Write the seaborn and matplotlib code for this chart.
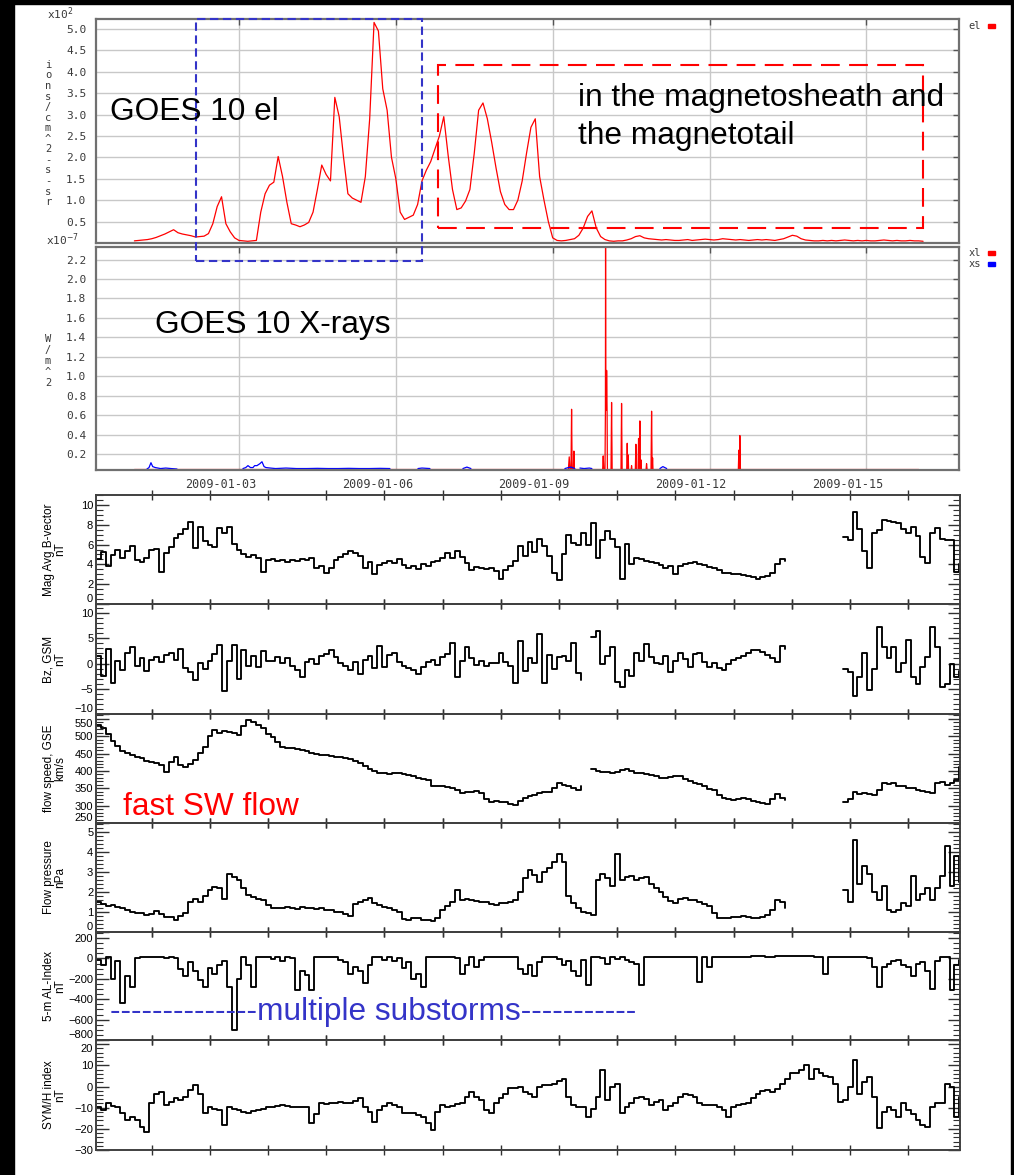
import numpy as np
import pandas as pd
import matplotlib
matplotlib.use("Agg")
import matplotlib.pyplot as plt
import matplotlib.transforms as mtransforms
from matplotlib.patches import Rectangle
from matplotlib.ticker import MultipleLocator, FixedLocator
import seaborn as sns

NA = np.nan

# ---------------- GOES 10 (days since 2009-01-01 00:00) ----------------
date_ticks = [2, 5, 8, 11, 14]
date_labels = ["2009-01-03", "2009-01-06", "2009-01-09", "2009-01-12", "2009-01-15"]

# electron flux, 2-hour cadence (units of 1e2)
el_flux = [
    0.05, 0.06, 0.07, 0.08, 0.10, 0.13, 0.17, 0.21, 0.26, 0.31, 0.24, 0.21,
    0.19, 0.17, 0.14, 0.15, 0.16, 0.22, 0.45, 0.85, 1.08, 0.45, 0.26, 0.12,
    0.06, 0.05, 0.04, 0.05, 0.06, 0.72, 1.15, 1.35, 1.42, 2.02, 1.55, 0.95,
    0.45, 0.42, 0.38, 0.42, 0.48, 0.72, 1.25, 1.82, 1.60, 1.45, 3.40, 2.95,
    2.00, 1.15, 1.05, 1.00, 0.95, 1.55, 2.90, 5.15, 4.95, 3.60, 3.10, 2.00,
    1.50, 0.72, 0.55, 0.60, 0.65, 0.90, 1.45, 1.70, 1.90, 2.20, 2.50, 2.95,
    2.05, 1.25, 0.78, 0.82, 0.98, 1.25, 2.10, 3.10, 3.27, 2.90, 2.35, 1.75,
    1.20, 0.90, 0.78, 0.78, 1.00, 1.45, 2.10, 2.70, 2.90, 1.55, 1.00, 0.50,
    0.12, 0.06, 0.05, 0.06, 0.08, 0.10, 0.18, 0.35, 0.62, 0.75, 0.35, 0.15,
    0.08, 0.05, 0.04, 0.05, 0.05, 0.07, 0.10, 0.15, 0.17, 0.12, 0.10, 0.09,
    0.08, 0.07, 0.08, 0.07, 0.06, 0.06, 0.07, 0.08, 0.06, 0.07, 0.08, 0.09,
    0.08, 0.07, 0.08, 0.10, 0.09, 0.08, 0.07, 0.08, 0.07, 0.06, 0.07, 0.08,
    0.07, 0.08, 0.07, 0.06, 0.08, 0.10, 0.14, 0.18, 0.16, 0.10, 0.07, 0.06,
    0.05, 0.05, 0.06, 0.05, 0.06, 0.05, 0.06, 0.07, 0.06, 0.05, 0.06, 0.05,
    0.06, 0.05, 0.05, 0.06, 0.07, 0.06, 0.05, 0.06, 0.05, 0.05, 0.06, 0.05,
    0.05, 0.04,
]
el_day = np.arange(len(el_flux)) / 12.0

# long-wavelength X-ray flux (units of 1e-7)
xl_day = [0.00, 8.300, 8.316, 8.330, 8.350, 8.361, 8.372, 8.395, 8.405, 8.415,
          8.955, 8.966, 8.977, 9.000, 9.008, 9.011, 9.016, 9.025, 9.031, 9.040, 9.046,
          9.115, 9.126, 9.137, 9.306, 9.317, 9.328, 9.415, 9.425, 9.435, 9.444, 9.452,
          9.500, 9.508, 9.516, 9.580, 9.591, 9.600, 9.632, 9.642, 9.655, 9.667, 9.678, 9.686, 9.694,
          9.785, 9.795, 9.805, 9.880, 9.891, 9.902, 9.910, 9.918,
          11.550, 11.560, 11.570, 11.579, 11.590, 15.00]
xl_flux = [0.04, 0.04, 0.17, 0.04, 0.04, 0.66, 0.04, 0.04, 0.23, 0.04,
           0.04, 0.18, 0.04, 0.04, 0.65, 2.40, 0.65, 0.65, 1.06, 0.65, 0.04,
           0.04, 0.73, 0.04, 0.04, 0.72, 0.04, 0.04, 0.31, 0.04, 0.19, 0.04,
           0.04, 0.08, 0.04, 0.04, 0.30, 0.04, 0.04, 0.36, 0.04, 0.54, 0.04, 0.14, 0.04,
           0.04, 0.10, 0.04, 0.04, 0.64, 0.04, 0.16, 0.04,
           0.04, 0.24, 0.04, 0.39, 0.04, 0.04]

# short-wavelength X-ray flux, gaps marked with NaN
xs_day = [0.24, 0.28, 0.317, 0.35, 0.40, 0.50, 0.60, 0.70, 0.815, NA,
          2.076, 2.13, 2.172, 2.22, 2.268, 2.30, 2.344, 2.40, 2.44, 2.48, 2.516,
          2.60, 2.70, 2.90, 3.10, 3.30, 3.50, 3.70, 3.90, 4.10, 4.30, 4.50, 4.70, 4.887, NA,
          5.423, 5.50, 5.652, NA, 6.283, 6.359, 6.436, NA,
          8.233, 8.30, 8.35, 8.424, NA, 8.520, 8.60, 8.70, 8.749, NA,
          10.05, 10.107, 10.18]
xs_flux = [0.045, 0.06, 0.11, 0.07, 0.06, 0.05, 0.055, 0.05, 0.045, NA,
           0.05, 0.06, 0.08, 0.06, 0.06, 0.08, 0.08, 0.10, 0.12, 0.07, 0.06,
           0.055, 0.05, 0.055, 0.05, 0.05, 0.052, 0.05, 0.05, 0.052, 0.05, 0.05, 0.052, 0.05, NA,
           0.05, 0.055, 0.05, NA, 0.05, 0.065, 0.05, NA,
           0.05, 0.06, 0.065, 0.05, NA, 0.055, 0.05, 0.055, 0.05, NA,
           0.05, 0.07, 0.05]

# ---------------- OMNI solar wind / indices (2-hour cadence) ----------------
mag_b = [
    4.5, 5.2, 3.8, 4.9, 5.5, 4.6, 5.3, 5.9, 4.4, 4.2, 4.6, 5.4,
    5.6, 3.2, 5.1, 5.8, 6.7, 7.1, 7.6, 8.3, 5.7, 7.8, 6.4, 6.0,
    5.8, 7.7, 7.2, 7.8, 6.1, 5.5, 5.0, 4.7, 4.9, 4.6, 3.2, 4.4,
    4.5, 4.3, 4.4, 4.2, 4.4, 4.3, 4.5, 4.4, 4.6, 3.6, 3.8, 3.1,
    3.6, 4.4, 4.7, 5.0, 5.3, 5.1, 4.8, 3.6, 4.2, 3.0, 3.9, 4.1,
    4.3, 4.1, 4.5, 3.9, 3.6, 3.8, 3.5, 4.0, 3.8, 4.2, 4.3, 4.6,
    5.1, 4.6, 5.3, 4.7, 4.1, 3.4, 3.7, 3.6, 3.5, 3.6, 3.3, 2.5,
    3.4, 3.8, 4.3, 5.9, 4.8, 6.3, 5.2, 6.6, 5.9, 4.8, 3.1, 2.4,
    5.0, 7.0, 6.2, 6.0, 7.2, 6.0, 8.2, 4.6, 6.5, 7.4, 6.6, 5.8,
    2.5, 6.1, 4.0, 4.6, 4.5, 4.3, 4.2, 4.1, 3.9, 3.6, 3.8, 3.0,
    3.8, 4.0, 4.1, 4.2, 4.0, 3.9, 3.7, 3.6, 3.4, 3.1, 3.1, 3.0,
    3.0, 2.9, 2.8, 2.7, 2.5, 2.7, 2.8, 3.1, 4.0, 4.5, 4.3, NA,
    NA, NA, NA, NA, NA, NA, NA, NA, NA, NA, 6.8, 6.5,
    9.3, 7.6, 5.3, 3.6, 7.2, 7.5, 8.5, 8.4, 8.3, 8.2, 7.6, 7.2,
    7.8, 6.9, 4.7, 4.1, 7.2, 7.7, 6.6, 6.5, 6.5, 3.2, 4.0,
]
bz_gsm = [
    1.5, -2.5, 2.8, -3.8, 0.5, -1.2, 2.0, 3.2, -0.5, 1.0, -1.5, 0.8,
    1.2, 0.4, 1.6, 2.1, 0.8, 2.9, -0.8, -1.6, -3.2, 0.2, -1.0, 0.5,
    1.8, 3.6, -5.5, 0.5, 3.6, -3.0, 2.7, -0.5, 1.5, -0.6, 2.4, 0.6,
    0.5, 1.3, 0.2, 1.0, -0.4, -1.3, -2.6, 0.4, 0.9, -0.1, 1.5, 1.9,
    2.6, 1.2, 0.2, -0.5, -1.3, 0.3, -2.0, 0.8, 1.5, -0.9, 3.5, -0.6,
    1.6, 2.0, 0.4, -0.5, -0.8, -1.2, -2.0, -0.6, 0.3, 0.8, -0.2, 1.3,
    1.9, 4.0, -2.6, 0.5, 3.3, 1.0, -0.3, 0.6, -0.5, 0.2, 0.1, 2.0,
    0.4, -0.5, -3.9, 4.5, -1.5, 1.0, 0.2, 5.8, -3.9, 1.6, -1.0, 1.3,
    1.5, 0.6, 4.0, -1.9, -3.3, NA, 5.3, 6.5, 0.0, 1.5, 3.3, -3.6,
    -4.6, -1.3, -2.4, 2.0, 0.5, 3.8, 1.3, 0.2, 0.0, 1.5, -1.6, 0.5,
    2.0, 0.9, -0.6, 1.8, 2.0, 0.3, -0.6, 0.2, -0.9, -1.2, -0.1, 0.7,
    1.0, 1.4, 2.0, 2.6, 2.7, 2.2, 1.6, 1.0, 0.4, 3.4, 2.8, NA,
    NA, NA, NA, NA, NA, NA, NA, NA, NA, NA, -1.0, -1.6,
    -6.5, -2.6, 2.0, -5.2, -1.0, 7.2, 3.3, 1.0, 3.3, -1.6, 0.2, 4.6,
    -2.6, -4.0, -0.6, 1.3, 7.2, 3.3, -4.6, -4.0, 0.0, -2.6, -1.5,
]
flow_speed = [
    533, 524, 505, 485, 472, 458, 452, 446, 441, 436, 430, 426,
    424, 418, 396, 425, 441, 418, 412, 420, 432, 451, 470, 500,
    518, 510, 514, 513, 508, 504, 530, 547, 540, 532, 524, 506,
    497, 484, 470, 467, 466, 463, 461, 457, 452, 450, 447, 446,
    443, 441, 439, 437, 435, 428, 422, 414, 405, 400, 395, 393,
    392, 394, 393, 390, 388, 384, 380, 377, 374, 358, 356, 357,
    355, 352, 345, 336, 338, 340, 341, 335, 320, 311, 313, 311,
    310, 306, 302, 312, 322, 327, 332, 336, 338, 340, 352, 364,
    360, 356, 351, 346, 358, NA, 405, 400, 397, 396, 393, 398,
    402, 405, 400, 395, 393, 392, 388, 385, 380, 380, 383, 386,
    384, 376, 370, 366, 362, 356, 349, 344, 332, 322, 319, 316,
    318, 321, 318, 314, 311, 309, 306, 318, 334, 322, 316, NA,
    NA, NA, NA, NA, NA, NA, NA, NA, NA, NA, 311, 320,
    340, 334, 336, 333, 330, 346, 364, 362, 364, 356, 358, 350,
    352, 345, 342, 338, 336, 366, 368, 360, 364, 374, 410,
]
flow_pressure = [
    1.5, 1.4, 1.3, 1.35, 1.25, 1.2, 1.1, 1.0, 0.93, 0.95, 0.85, 0.9,
    1.05, 0.9, 0.77, 0.75, 0.62, 0.78, 0.95, 1.5, 1.65, 1.5, 1.8, 2.1,
    2.25, 2.2, 1.65, 2.9, 2.75, 2.6, 2.2, 1.85, 1.75, 1.65, 1.6, 1.35,
    1.2, 1.2, 1.2, 1.25, 1.2, 1.15, 1.25, 1.2, 1.2, 1.15, 1.2, 1.1,
    1.1, 1.0, 1.0, 0.9, 0.78, 1.4, 1.5, 1.6, 1.7, 1.45, 1.35, 1.25,
    1.2, 1.1, 1.0, 0.65, 0.6, 0.7, 0.68, 0.62, 0.6, 0.55, 0.7, 1.1,
    1.3, 1.5, 2.1, 1.6, 1.65, 1.6, 1.55, 1.5, 1.5, 1.4, 1.35, 1.45,
    1.45, 1.5, 1.6, 2.0, 2.7, 3.1, 2.85, 2.5, 3.0, 3.2, 3.5, 3.9,
    3.5, 1.8, 1.45, 1.2, 1.0, 0.93, 0.85, 2.6, 2.9, 2.7, 2.3, 3.9,
    2.6, 2.75, 2.8, 2.6, 2.7, 2.75, 2.4, 2.2, 2.0, 1.77, 1.55, 1.45,
    1.65, 1.7, 1.6, 1.6, 1.5, 1.4, 1.3, 0.95, 0.7, 0.68, 0.7, 0.75,
    0.75, 0.78, 0.77, 0.72, 0.68, 0.75, 0.85, 1.1, 1.6, 1.5, 1.2, NA,
    NA, NA, NA, NA, NA, NA, NA, NA, NA, NA, 2.1, 1.5,
    4.6, 2.4, 3.3, 2.9, 2.0, 1.6, 2.3, 1.1, 1.0, 1.1, 1.45, 1.3,
    2.8, 1.6, 1.9, 2.2, 1.6, 2.2, 2.8, 4.3, 2.3, 3.8, 2.5,
]
al_index = [
    -20, -60, 10, -200, -30, -440, -170, -277, 5, 15, 10, 15,
    12, 15, 5, 10, 0, -100, -170, -40, -120, -210, -277, -90,
    -150, -60, -30, -277, -700, -200, 15, -60, -277, 10, 15, 10,
    -10, 15, -30, 10, 5, -310, -120, -160, -310, 10, 15, 12,
    15, 10, -20, -40, -150, -80, -120, -245, -60, 10, 15, -20,
    10, -30, 0, -90, -40, -200, -150, -277, 10, 15, 12, 15,
    10, 15, 5, -150, -60, 10, -80, -20, 15, 12, 15, 10,
    15, 12, 10, -100, -150, -60, -170, -40, 10, 15, 10, -10,
    -60, -30, -120, -170, -20, -260, 10, 15, 5, -50, 10, -10,
    15, -20, -40, -50, -260, 10, 15, 15, 15, 10, 15, 15,
    10, 15, 10, 15, -230, 10, -80, 10, 15, 15, 15, 15,
    18, 15, 15, 20, 22, 20, 15, 15, 20, 25, 25, 22,
    20, 25, 22, 20, 15, 10, -150, 10, 15, 15, 15, 18,
    15, 15, 10, 5, -80, -277, -80, -50, -30, -20, -60, -80,
    -170, -50, -40, -120, -300, -30, 10, 10, -310, -60, -20,
]
sym_h = [
    -9.6, -11.1, -8.0, -9.0, -9.6, -12.7, -15.8, -14.3, -15.8, -19.0, -21.4, -8.0,
    -3.3, -2.5, -8.8, -7.2, -5.6, -6.4, -4.8, -1.7, 0.7, -3.3, -12.7, -9.6,
    -10.4, -11.1, -18.2, -9.6, -10.4, -11.1, -12.0, -12.7, -11.5, -11.1, -10.4, -9.6,
    -9.6, -9.0, -8.8, -9.2, -9.6, -9.6, -9.6, -9.6, -17.4, -13.0, -8.0, -8.4,
    -8.0, -7.6, -7.2, -8.0, -8.0, -6.8, -5.6, -9.6, -12.0, -16.6, -11.1, -9.0,
    -8.0, -8.8, -9.6, -12.7, -12.7, -12.7, -13.5, -14.3, -17.4, -20.6, -12.0, -8.8,
    -9.6, -9.2, -8.4, -8.0, -5.0, -2.5, -4.8, -6.4, -11.1, -12.7, -8.0, -5.6,
    -3.3, -0.9, -0.5, -0.1, -2.5, -3.3, -4.8, -0.1, 0.5, 0.7, 1.4, 2.5,
    3.8, -4.8, -8.8, -9.6, -9.6, -14.3, -10.4, -4.8, 7.7, -6.4, -0.1, 1.4,
    -12.7, -9.6, -8.0, -5.6, -4.8, -6.0, -8.8, -7.2, -6.4, -11.1, -9.0, -8.0,
    -5.0, -3.3, -4.0, -4.8, -8.0, -8.8, -8.8, -8.8, -9.6, -11.1, -14.3, -9.6,
    -8.8, -8.4, -8.0, -5.6, -3.3, -2.0, -1.7, -2.5, -1.0, 1.4, 3.8, 6.2,
    6.2, 8.0, 10.1, 3.8, 8.5, 6.2, 5.0, 4.6, 1.4, -7.2, -6.4, -0.1,
    12.5, -3.3, 2.0, 4.6, -4.8, -19.8, -12.0, -9.6, -11.1, -14.3, -8.0, -11.1,
    -13.0, -15.8, -18.0, -19.0, -9.6, -8.0, -8.0, 1.4, -0.1, -14.3, -4.8,
]
omni_hour = 2.0 * np.arange(len(sym_h))

# highlighted intervals on the electron panel (day, flux)
BLUE_BOX = (1.178, -0.43, 5.50, 5.23)
RED_BOX = (5.805, 0.36, 15.08, 4.16)

# ---------------- figure ----------------
sns.set_theme(style="white")
plt.rcParams["font.family"] = ["Liberation Sans", "DejaVu Sans"]
plt.rcParams["axes.unicode_minus"] = True
plt.rcParams["text.color"] = "black"

W, H, DPI = 1014, 1175, 100
fig = plt.figure(figsize=(W / DPI, H / DPI), dpi=DPI, facecolor="white")
MONO = "DejaVu Sans Mono"
GRAY_TXT = "#3a3a3a"
BLUE = "#3434c8"


def frame(left, top, right, bottom):
    return [left / W, 1 - bottom / H, (right - left) / W, (bottom - top) / H]


def segmented(x, y):
    df = pd.DataFrame({"x": np.asarray(x, float), "y": np.asarray(y, float)})
    df["seg"] = df["y"].isna().cumsum()
    return df.dropna()


def trace(ax, x, y, color, lw, **kw):
    sns.lineplot(data=segmented(x, y), x="x", y="y", units="seg", estimator=None,
                 sort=False, color=color, linewidth=lw, legend=False, ax=ax, **kw)
    ax.set_xlabel("")
    ax.set_ylabel("")


def style_goes(ax, ylim, yticks, ylabels):
    ax.set_xlim(-0.734, 15.77)
    ax.set_ylim(*ylim)
    ax.set_xticks(date_ticks)
    ax.set_yticks(yticks)
    ax.set_yticklabels(ylabels)
    ax.grid(True, color="#c8c8c8", lw=1.0)
    ax.set_axisbelow(True)
    for s in ax.spines.values():
        s.set_visible(True)
        s.set_color("#707070")
        s.set_linewidth(1.6)
    ax.tick_params(axis="both", direction="in", length=4, width=1, color="#555555",
                   top=True, right=True, labelsize=8, labelcolor=GRAY_TXT)
    ax.tick_params(axis="y", pad=7)
    for lbl in ax.get_yticklabels():
        lbl.set_family(MONO)


# electron panel
ax_el = fig.add_axes(frame(96, 19, 959, 243))
ax_el.set_zorder(3)
trace(ax_el, el_day, el_flux, "red", 0.9)
style_goes(ax_el, (0, 5.23), np.arange(0.5, 5.01, 0.5),
           ["%.1f" % v for v in np.arange(0.5, 5.01, 0.5)])
ax_el.tick_params(axis="x", labelbottom=False)

# X-ray panel
ax_xr = fig.add_axes(frame(96, 247, 959, 470))
trace(ax_xr, xl_day, xl_flux, "red", 0.9)
trace(ax_xr, xs_day, xs_flux, "blue", 0.9)
style_goes(ax_xr, (0.035, 2.33), np.arange(0.2, 2.21, 0.2),
           ["%.1f" % v for v in np.arange(0.2, 2.21, 0.2)])
ax_xr.set_xticklabels(date_labels)
ax_xr.tick_params(axis="x", pad=6, labelsize=8.5)
shift = mtransforms.ScaledTranslation(-18.5 / DPI, 0, fig.dpi_scale_trans)
for lbl in ax_xr.get_xticklabels():
    lbl.set_family(MONO)
    lbl.set_transform(lbl.get_transform() + shift)

# annotation boxes and captions on the GOES panels
x0, y0, x1, y1 = BLUE_BOX
ax_el.add_patch(Rectangle((x0, y0), x1 - x0, y1 - y0, fill=False, ec=BLUE, lw=1.5,
                          ls=(0, (4, 2.2)), clip_on=False, zorder=6))
x0, y0, x1, y1 = RED_BOX
ax_el.add_patch(Rectangle((x0, y0), x1 - x0, y1 - y0, fill=False, ec="red", lw=1.5,
                          ls=(0, (9, 4.5)), clip_on=False, zorder=6))
ax_el.text(-0.467, 2.88, "GOES 10 el", fontsize=22.8, va="baseline", ha="left",
           color="black", zorder=7)
ax_el.text(8.482, 3.205, "in the magnetosheath and", fontsize=22.8, va="baseline",
           ha="left", color="black", zorder=7)
ax_el.text(8.482, 2.319, "the magnetotail", fontsize=22.8, va="baseline", ha="left",
           color="black", zorder=7)
ax_xr.text(0.394, 1.45, "GOES 10 X-rays", fontsize=22.8, va="baseline", ha="left",
           color="black", zorder=7)

# axis unit labels written as stacked characters, plus multipliers
fig.text(48 / W, 1 - 133.5 / H, "\n".join("ions/cm^2-s-sr"), ha="center", va="center",
         family=MONO, fontsize=7.5, linespacing=1.07, color=GRAY_TXT)
fig.text(48 / W, 1 - 361 / H, "\n".join("W/m^2"), ha="center", va="center",
         family=MONO, fontsize=7.5, linespacing=1.1, color=GRAY_TXT)
fig.text(60 / W, 1 - 14 / H, r"x10$^{2}$", ha="center", va="center", family=MONO,
         fontsize=8, color=GRAY_TXT)
fig.text(62 / W, 1 - 240 / H, r"x10$^{-7}$", ha="center", va="center", family=MONO,
         fontsize=8, color=GRAY_TXT)

# legend keys
for label, yy, col in [("el", 26, "red"), ("xl", 253, "red"), ("xs", 264, "blue")]:
    fig.text(981 / W, 1 - yy / H, label, ha="right", va="center", family=MONO,
             fontsize=7.5, color=GRAY_TXT)
    fig.patches.append(Rectangle((988 / W, 1 - (yy + 2) / H), 7 / W, 4 / H,
                                 transform=fig.transFigure, color=col, figure=fig))

# OMNI panels
omni_ticks = 22.9 + 24 * np.arange(14)
week_ticks = omni_ticks[[4, 11]]
panels = [
    (mag_b, "Mag Avg B-vector\nnT", (0, 11), [0, 2, 4, 6, 8, 10], 0.5, 495, 604),
    (bz_gsm, "Bz, GSM\nnT", (-10, 11.8), [-10, -5, 0, 5, 10], 1, 604, 714),
    (flow_speed, "flow speed, GSE\nkm/s", (250, 564),
     [250, 300, 350, 400, 450, 500, 550], 10, 714, 823),
    (flow_pressure, "Flow pressure\nnPa", (0, 5.45), [0, 1, 2, 3, 4, 5], 0.2, 823, 932),
    (al_index, "5-m AL-Index\nnT", (-800, 259), [-800, -600, -400, -200, 0, 200], 50,
     932, 1040),
    (sym_h, "SYM/H index\nnT", (-30, 22), [-30, -20, -10, 0, 10, 20], 2, 1040, 1150),
]
omni_axes = []
for i, (values, ylabel, ylim, yticks, minor, top, bottom) in enumerate(panels):
    ax = fig.add_axes(frame(96, top, 960, bottom))
    trace(ax, omni_hour, values, "black", 1.35, drawstyle="steps-post")
    ax.set_xlim(0, 356.3)
    ax.set_ylim(*ylim)
    ax.xaxis.set_major_locator(FixedLocator(omni_ticks))
    ax.xaxis.set_minor_locator(FixedLocator(week_ticks))
    ax.set_yticks(yticks)
    ax.yaxis.set_minor_locator(MultipleLocator(minor))
    ax.tick_params(axis="x", which="major", direction="inout", length=7, width=1.0,
                   color="#303030", top=True, bottom=True, labelbottom=False)
    ax.tick_params(axis="x", which="minor", direction="inout", length=3.5, width=3.5,
                   color="#303030", top=True, bottom=True)
    ax.tick_params(axis="y", which="major", direction="in", length=9, width=1.0,
                   color="#303030", left=True, right=True, labelsize=8, pad=2,
                   labelcolor="black")
    ax.tick_params(axis="y", which="minor", direction="in", length=5, width=0.8,
                   color="#303030", left=True, right=True)
    for s in ax.spines.values():
        s.set_visible(True)
        s.set_color("#404040")
        s.set_linewidth(1.4)
    ax.set_ylabel(ylabel, fontsize=8.5, linespacing=1.0, color="black")
    ax.yaxis.set_label_coords(-0.034, 0.5)
    ax.patch.set_alpha(0)
    # labels sitting on a shared panel edge are nudged into their own panel
    labels = ax.get_yticklabels()
    if i < len(panels) - 1:
        labels[0].set_verticalalignment("bottom")
    if i in (2, 5):
        labels[-1].set_verticalalignment("top")
    omni_axes.append(ax)

omni_axes[2].text(11.3, 273, "fast SW flow", color="red", fontsize=22.8,
                  va="baseline", ha="left", zorder=7)
omni_axes[4].text(5.6, -604, "-" * 14 + "multiple substorms" + "-" * 11, color=BLUE,
                  fontsize=22.8, va="baseline", ha="left", zorder=7)

# black frame around the page
for rect in [(0, 0, 14 / W, 1), (0, 1 - 4 / H, 1, 4 / H), (1011 / W, 0, 3 / W, 1)]:
    fig.patches.append(Rectangle(rect[:2], rect[2], rect[3], transform=fig.transFigure,
                                 color="black", figure=fig, zorder=10))

fig.savefig("out.png", dpi=DPI, facecolor="white")
